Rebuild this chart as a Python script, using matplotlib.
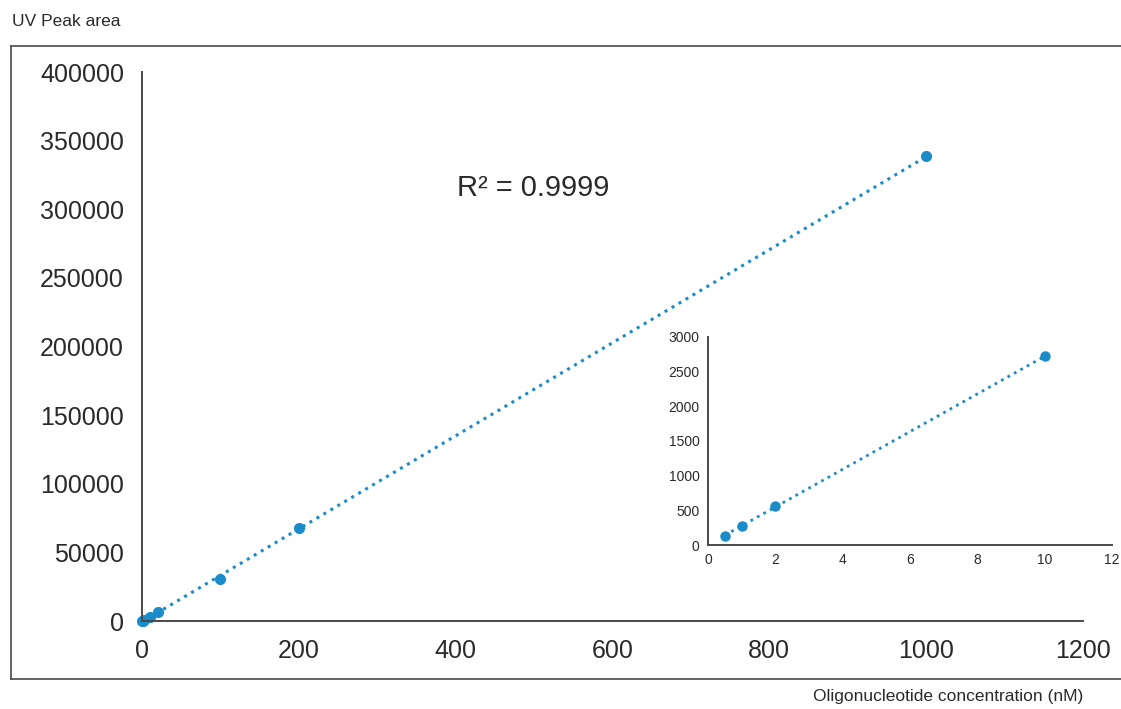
import numpy as np
import matplotlib.pyplot as plt
from matplotlib.lines import Line2D

plt.rcParams['font.family'] = ['Liberation Sans', 'DejaVu Sans']

# Calibration data.
conc = [0.5, 1, 2, 10, 20, 100, 200, 1000]           # nM
area = [130, 280, 560, 2720, 6300, 30500, 67800, 338500]

# Inset: low concentration range.
conc_low = [0.5, 1, 2, 10]
area_low = [130, 280, 560, 2720]

r2_text = 'R² = 0.9999'
blue = '#1a8cca'
axis_col = '#4a4a4a'
text_col = '#2a2a2a'

fig = plt.figure(figsize=(11.21, 7.09), dpi=100)

# Outer frame (open on the right, like the reference).
box = dict(color=axis_col, lw=1.2, transform=fig.transFigure)
fig.add_artist(Line2D([0.0098, 1.0], [0.935, 0.935], **box))
fig.add_artist(Line2D([0.0098, 1.0], [0.0423, 0.0423], **box))
fig.add_artist(Line2D([0.0098, 0.0098], [0.0423, 0.935], **box))

fig.text(0.011, 0.970, 'UV Peak area', fontsize=12.5, color=text_col, va='center')
fig.text(0.966, 0.017, 'Oligonucleotide concentration (nM)', fontsize=12.5,
         color=text_col, ha='right', va='center')


def style(ax, size, pad):
    for s in ['top', 'right']:
        ax.spines[s].set_visible(False)
    for s in ['left', 'bottom']:
        ax.spines[s].set_color(axis_col)
        ax.spines[s].set_linewidth(1.4)
    ax.tick_params(length=0, labelsize=size, colors=text_col, pad=pad)
    ax.patch.set_alpha(0)


# Main plot
ax = fig.add_axes([0.1267, 0.1241, 0.8394, 0.7743])
x = np.array(conc, float)
y = np.array(area, float)
k, b = np.polyfit(x, y, 1)
xf = np.array([x.min(), x.max()])
ax.plot(xf, k * xf + b, ':', color=blue, lw=2.2)
ax.plot(x, y, 'o', color=blue, ms=7, clip_on=False)
ax.set_xlim(0, 1200)
ax.set_ylim(0, 400000)
ax.set_xticks(np.arange(0, 1201, 200))
ax.set_yticks(np.arange(0, 400001, 50000))
style(ax, 18, 13)
ax.text(402, 315600, r2_text, fontsize=21, color=text_col, va='center')

# Inset
ins = fig.add_axes([0.6316, 0.2313, 0.3604, 0.2934])
xl = np.array(conc_low, float)
yl = np.array(area_low, float)
kl, bl = np.polyfit(xl, yl, 1)
xfl = np.array([xl.min(), xl.max()])
ins.plot(xfl, kl * xfl + bl, ':', color=blue, lw=2.0)
ins.plot(xl, yl, 'o', color=blue, ms=6.5, clip_on=False)
ins.set_xlim(0, 12)
ins.set_ylim(0, 3000)
ins.set_xticks(np.arange(0, 13, 2))
ins.set_yticks(np.arange(0, 3001, 500))
style(ins, 10, 6)

fig.savefig('out.png', dpi=100)
